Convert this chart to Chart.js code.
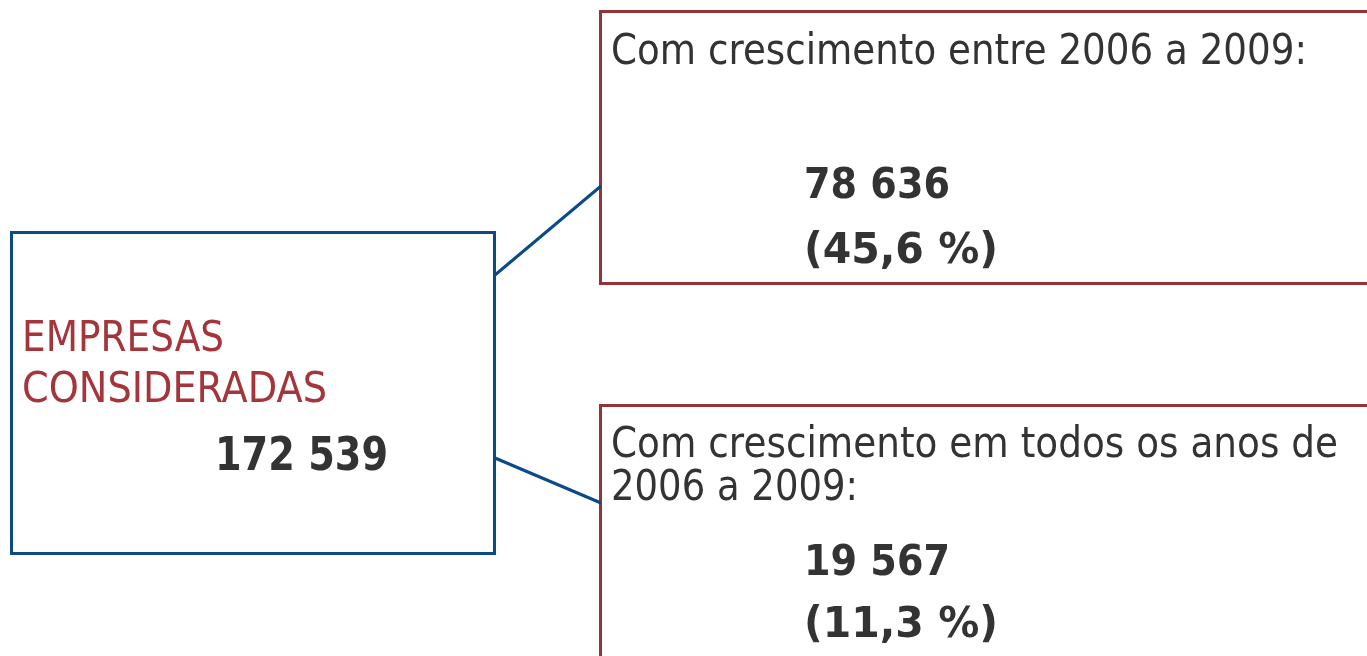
<!DOCTYPE html>
<html>
<head>
<meta charset="utf-8">
<script src="https://cdn.jsdelivr.net/npm/chart.js@4/dist/chart.umd.min.js"></script>
<style>
  html, body { margin: 0; padding: 0; background: #ffffff; }
  #wrap { width: 1367px; height: 656px; position: relative; }
</style>
</head>
<body>
<div id="wrap"><canvas id="c" width="1367" height="656"></canvas></div>
<script>
// ---- data ----
const categories = ['EMPRESAS\nCONSIDERADAS', 'Com crescimento entre 2006 a 2009:', 'Com crescimento em todos os anos de\n2006 a 2009:'];
const counts = [172539, 78636, 19567];
const shares = [null, 45.6, 11.3];

// ---- formatting ----
const fmtCount = v => String(v).replace(/\B(?=(\d{3})+(?!\d))/g, ' ');
const fmtShare = v => '(' + v.toFixed(1).replace('.', ',') + ' %)';

// ---- layout (positions/styles, kept separate from data) ----
const BLUE = '#0b4a87';
const RED = '#953338';
const RED_TEXT = '#a3353b';
const DARK = '#333333';
const boxes = [
  { x0: 11.5, y0: 232.5, x1: 494.5, y1: 553.5, color: BLUE },
  { x0: 600.5, y0: 11.5, x1: 1372, y1: 283.5, color: RED },
  { x0: 600.5, y0: 405.5, x1: 1372, y1: 670, color: RED }
];
const connectors = [
  { from: [495, 275], to: [601, 186] },
  { from: [495, 458], to: [601, 503] }
];
// text slots: [x, baseline, targetWidth, size]
const labelSlots = [
  [[22, 351, 202, 43], [22, 402, 305, 43]],
  [[611, 64, 696, 43]],
  [[611, 457, 727, 43], [611, 500, 247, 43]]
];
const countSlots = [[215, 470, 173, 46], [804, 198, 146, 42], [804, 575, 146, 42]];
const shareSlots = [null, [804, 263, 194, 42], [804, 637, 194, 42]];

const rectPts = b => [
  { x: b.x0, y: b.y0 }, { x: b.x1, y: b.y0 }, { x: b.x1, y: b.y1 }, { x: b.x0, y: b.y1 }, { x: b.x0, y: b.y0 }
];
const datasets = [];
connectors.forEach(c => datasets.push({
  data: [{ x: c.from[0], y: c.from[1] }, { x: c.to[0], y: c.to[1] }],
  showLine: true, borderColor: BLUE, borderWidth: 3, pointRadius: 0, fill: false
}));
boxes.forEach(b => datasets.push({
  data: rectPts(b), showLine: true, borderColor: b.color, borderWidth: 3,
  pointRadius: 0, fill: false, tension: 0, borderJoinStyle: 'miter', borderCapStyle: 'square'
}));

const textPlugin = {
  id: 'texts',
  afterDatasetsDraw(chart) {
    const { ctx, scales: { x, y } } = chart;
    const put = (txt, slot, weight, color) => {
      const [sx, sy, w, size] = slot;
      ctx.save();
      ctx.font = weight + ' ' + size + 'px "DejaVu Sans", Verdana, sans-serif';
      ctx.fillStyle = color;
      ctx.textBaseline = 'alphabetic';
      ctx.textAlign = 'left';
      const px0 = x.getPixelForValue(sx), px1 = x.getPixelForValue(sx + w);
      const m = ctx.measureText(txt).width;
      ctx.translate(px0, y.getPixelForValue(sy));
      ctx.scale((px1 - px0) / m, 1);
      ctx.fillText(txt, 0, 0);
      ctx.restore();
    };
    categories.forEach((cat, i) => {
      const lines = cat.split('\n');
      lines.forEach((ln, j) => put(ln, labelSlots[i][j], 'normal', i === 0 ? RED_TEXT : DARK));
      put(fmtCount(counts[i]), countSlots[i], 'bold', DARK);
      if (shares[i] != null) put(fmtShare(shares[i]), shareSlots[i], 'bold', DARK);
    });
  }
};

new Chart(document.getElementById('c'), {
  type: 'scatter',
  data: { datasets },
  options: {
    responsive: false,
    animation: false,
    layout: { padding: 0 },
    scales: {
      x: { type: 'linear', min: 0, max: 1367, display: false },
      y: { type: 'linear', min: 0, max: 656, reverse: true, display: false }
    },
    plugins: { legend: { display: false }, tooltip: { enabled: false } },
    events: []
  },
  plugins: [textPlugin]
});
</script>
</body>
</html>
